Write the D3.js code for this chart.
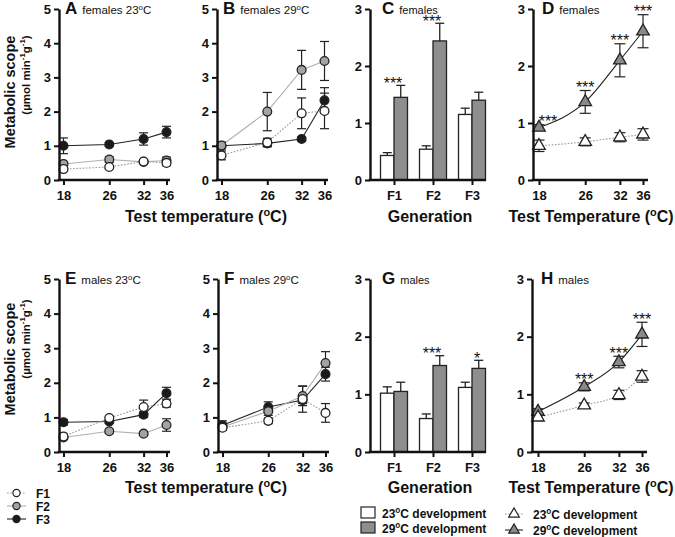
<!DOCTYPE html>
<html><head><meta charset="utf-8">
<script src="https://cdn.jsdelivr.net/npm/d3@7/dist/d3.min.js"></script>
<style>
body{margin:0;background:#fff;}
svg{font-family:"Liberation Sans", Arial, Helvetica, sans-serif;}
</style></head><body>
<svg id="c" width="675" height="537"></svg>
<script>
// ---------------- DATA ----------------
const temps = [18, 26, 32, 36];
const generations = ["F1", "F2", "F3"];
const yTicks5 = [0, 1, 2, 3, 4, 5];
const yTicks3 = [0, 1, 2, 3];

// A: females 23oC (mean, sem)
const femA_F1 = [0.32, 0.38, 0.54, 0.50], femA_F1_err = [0.05, 0.05, 0.05, 0.08];
const femA_F2 = [0.47, 0.60, 0.53, 0.57], femA_F2_err = [0.05, 0.08, 0.05, 0.10];
const femA_F3 = [1.00, 1.04, 1.20, 1.40], femA_F3_err = [0.23, 0.05, 0.18, 0.17];
// B: females 29oC
const femB_F1 = [0.72, 1.10, 1.95, 2.02], femB_F1_err = [0.13, 0.12, 0.45, 0.52];
const femB_F2 = [1.01, 2.00, 3.22, 3.48], femB_F2_err = [0.10, 0.56, 0.57, 0.57];
const femB_F3 = [1.00, 1.07, 1.20, 2.33], femB_F3_err = [0.05, 0.10, 0.06, 0.37];
// E: males 23oC
const malE_F1 = [0.45, 0.98, 1.30, 1.40], malE_F1_err = [0.07, 0.06, 0.20, 0.10];
const malE_F2 = [0.42, 0.60, 0.53, 0.78], malE_F2_err = [0.05, 0.06, 0.05, 0.18];
const malE_F3 = [0.86, 0.88, 1.08, 1.70], malE_F3_err = [0.08, 0.05, 0.08, 0.17];
// F: males 29oC
const malF_F1 = [0.70, 0.90, 1.53, 1.13], malF_F1_err = [0.06, 0.08, 0.38, 0.27];
const malF_F2 = [0.72, 1.18, 1.62, 2.57], malF_F2_err = [0.08, 0.12, 0.28, 0.33];
const malF_F3 = [0.77, 1.30, 1.50, 2.25], malF_F3_err = [0.13, 0.15, 0.10, 0.20];

// C: females by generation (bars)
const femC_dev23 = [0.43, 0.54, 1.15], femC_dev23_err = [0.05, 0.06, 0.11];
const femC_dev29 = [1.45, 2.44, 1.40], femC_dev29_err = [0.21, 0.31, 0.14];
const femC_stars = ["***", "***", ""];
// G: males by generation (bars)
const malG_dev23 = [1.02, 0.58, 1.12], malG_dev23_err = [0.11, 0.08, 0.09];
const malG_dev29 = [1.05, 1.50, 1.45], malG_dev29_err = [0.16, 0.17, 0.14];
const malG_stars = ["", "***", "*"];

// D: females by temperature (triangles)
const femD_dev23 = [0.60, 0.67, 0.75, 0.80], femD_dev23_err = [0.10, 0.07, 0.08, 0.10];
const femD_dev29 = [0.92, 1.37, 2.10, 2.61], femD_dev29_err = [0.05, 0.20, 0.29, 0.29];
const femD_stars = ["***", "***", "***", "***"];
// H: males by temperature (triangles)
const malH_dev23 = [0.60, 0.81, 0.99, 1.31], malH_dev23_err = [0.04, 0.04, 0.08, 0.10];
const malH_dev29 = [0.70, 1.13, 1.56, 2.04], malH_dev29_err = [0.05, 0.07, 0.10, 0.21];
const malH_stars = ["", "***", "***", "***"];

// ---------------- DRAWING ----------------
const svg = d3.select("#c");
const FONT = '"Liberation Sans", Arial, Helvetica, sans-serif';
const rows = [{y0: 180, y1: 9}, {y0: 452, y1: 279}];

function rich(sel, parts, fs) {
  let shifted = false;
  parts.forEach(p => {
    const sup = typeof p !== "string";
    const t = sup ? p.s : p;
    const ts = sel.append("tspan").text(t);
    if (sup && !shifted) { ts.attr("font-size", fs * 0.68).attr("dy", -fs * 0.38); shifted = true; }
    else if (sup) { ts.attr("font-size", fs * 0.68); }
    else if (shifted) { ts.attr("dy", fs * 0.38); shifted = false; }
  });
}

function styleAxis(g) {
  g.attr("font-family", FONT).attr("font-size", 13).attr("font-weight", "bold");
  g.selectAll("line").attr("stroke", "#111").attr("stroke-width", 2);
  g.selectAll("text").attr("fill", "#111");
}

function yAxis(g, ax, y, ticks) {
  const a = g.append("g").attr("transform", `translate(${ax},0)`)
    .call(d3.axisLeft(y).tickValues(ticks).tickSize(5).tickSizeOuter(0).tickPadding(3).tickFormat(d3.format("d")));
  a.select(".domain").attr("stroke", "#111").attr("stroke-width", 2.4);
  styleAxis(a);
}

function xAxis(g, ax, axEnd, y0, x, ticks) {
  g.append("line").attr("x1", ax - 1.2).attr("x2", axEnd).attr("y1", y0).attr("y2", y0)
    .attr("stroke", "#111").attr("stroke-width", 2.4);
  const a = g.append("g").attr("transform", `translate(0,${y0})`)
    .call(d3.axisBottom(x).tickValues(ticks).tickSize(5).tickSizeOuter(0).tickPadding(6));
  a.select(".domain").remove();
  styleAxis(a);
}

function panelTitle(g, x, y, letter, parts, subSize) {
  const t = g.append("text").attr("x", x).attr("y", y).attr("font-family", FONT).attr("fill", "#111");
  t.append("tspan").attr("font-size", 17).attr("font-weight", "bold").text(letter);
  const fs = subSize || 11.5;
  const s = t.append("tspan").attr("font-size", fs).attr("dx", 5);
  rich(s, parts, fs);
}

function errBar(g, x, yTop, yBot, cap) {
  g.append("line").attr("x1", x).attr("x2", x).attr("y1", yTop).attr("y2", yBot).attr("stroke", "#222").attr("stroke-width", 1.2);
  g.append("line").attr("x1", x - cap).attr("x2", x + cap).attr("y1", yTop).attr("y2", yTop).attr("stroke", "#222").attr("stroke-width", 1.2);
  g.append("line").attr("x1", x - cap).attr("x2", x + cap).attr("y1", yBot).attr("y2", yBot).attr("stroke", "#222").attr("stroke-width", 1.2);
}

const circleStyles = {
  F1: {fill: "#fff", line: "#9a9a9a", dash: "1.6,1.6"},
  F2: {fill: "#a3a3a3", line: "#b0b0b0", dash: null},
  F3: {fill: "#1a1a1a", line: "#222", dash: null}
};

function linePanel(cfg) {
  const r = rows[cfg.row];
  const g = svg.append("g");
  const y = d3.scaleLinear().domain([0, 5]).range([r.y0, r.y1]);
  const x = d3.scaleLinear().domain([18, 36]).range([cfg.ax + 4.5, cfg.ax + 107.5]);
  const series = [
    {k: "F3", v: cfg.F3, e: cfg.F3e},
    {k: "F2", v: cfg.F2, e: cfg.F2e},
    {k: "F1", v: cfg.F1, e: cfg.F1e}
  ];
  const line = d3.line().x((d, i) => x(temps[i])).y(d => y(d));
  series.forEach(s => {
    const st = circleStyles[s.k];
    g.append("path").attr("d", line(s.v)).attr("fill", "none").attr("stroke", st.line)
      .attr("stroke-width", 1.1).attr("stroke-dasharray", st.dash);
  });
  series.forEach(s => s.v.forEach((v, i) => errBar(g, x(temps[i]), y(v + s.e[i]), y(v - s.e[i]), 4.5)));
  series.forEach(s => {
    const st = circleStyles[s.k];
    g.selectAll(null).data(s.v).join("circle")
      .attr("cx", (d, i) => x(temps[i])).attr("cy", d => y(d)).attr("r", 4.4)
      .attr("fill", st.fill).attr("stroke", "#222").attr("stroke-width", 1.3);
  });
  yAxis(g, cfg.ax, y, yTicks5);
  xAxis(g, cfg.ax, cfg.ax + 111, r.y0, x, temps);
  panelTitle(g, cfg.ax + 6, r.y1 + 5, cfg.letter, cfg.title);
}

function barPanel(cfg) {
  const r = rows[cfg.row];
  const g = svg.append("g");
  const y = d3.scaleLinear().domain([0, 3]).range([r.y0, r.y1]);
  const x = d3.scalePoint().domain(generations).range([cfg.ax + 24, cfg.ax + 102]);
  const bw = 13.5;
  const groups = [
    {v: cfg.d23, e: cfg.d23e, fill: "#fff", off: -bw},
    {v: cfg.d29, e: cfg.d29e, fill: "#8e8e8e", off: 0}
  ];
  groups.forEach(grp => {
    grp.v.forEach((v, i) => {
      const cx = x(generations[i]) + grp.off + bw / 2;
      g.append("line").attr("x1", cx).attr("x2", cx).attr("y1", y(v)).attr("y2", y(v + grp.e[i])).attr("stroke", "#222").attr("stroke-width", 1.3);
      g.append("line").attr("x1", cx - 4.5).attr("x2", cx + 4.5).attr("y1", y(v + grp.e[i])).attr("y2", y(v + grp.e[i])).attr("stroke", "#222").attr("stroke-width", 1.3);
    });
    g.selectAll(null).data(grp.v).join("rect")
      .attr("x", (d, i) => x(generations[i]) + grp.off).attr("width", bw)
      .attr("y", d => y(d)).attr("height", d => y(0) - y(d))
      .attr("fill", grp.fill).attr("stroke", "#222").attr("stroke-width", 1.3);
  });
  cfg.stars.forEach((s, i) => {
    if (!s) return;
    const top = Math.max(cfg.d23[i] + cfg.d23e[i], cfg.d29[i] + cfg.d29e[i]);
    g.append("text").attr("x", x(generations[i]) + (s.length === 1 ? 5 : -1)).attr("y", y(top) + 3.5)
      .attr("text-anchor", "middle").attr("font-family", FONT).attr("font-size", 16).attr("fill", "#111").text(s);
  });
  yAxis(g, cfg.ax, y, yTicks3);
  xAxis(g, cfg.ax, cfg.ax + 116, r.y0, x, generations);
  panelTitle(g, cfg.ax + 12, r.y1 + 5, cfg.letter, cfg.title, 11);
}

function triPanel(cfg) {
  const r = rows[cfg.row];
  const g = svg.append("g");
  const y = d3.scaleLinear().domain([0, 3]).range([r.y0, r.y1]);
  const x = d3.scaleLinear().domain([18, 36]).range([cfg.ax + 6, cfg.ax + 110]);
  const line = d3.line().x((d, i) => x(temps[i])).y(d => y(d)).curve(d3.curveMonotoneX);
  const series = [
    {v: cfg.d29, e: cfg.d29e, fill: "#8a8a8a", line: "#222", dash: null},
    {v: cfg.d23, e: cfg.d23e, fill: "#fff", line: "#9a9a9a", dash: "1.6,1.6"}
  ];
  series.forEach(s => g.append("path").attr("d", line(s.v)).attr("fill", "none")
    .attr("stroke", s.line).attr("stroke-width", 1.1).attr("stroke-dasharray", s.dash));
  series.forEach(s => s.v.forEach((v, i) => errBar(g, x(temps[i]), y(v + s.e[i]), y(v - s.e[i]), 5.5)));
  const tri = d3.symbol().type(d3.symbolTriangle).size(68);
  series.forEach(s => {
    g.selectAll(null).data(s.v).join("path").attr("d", tri)
      .attr("transform", (d, i) => `translate(${x(temps[i])},${y(d)})`)
      .attr("fill", s.fill).attr("stroke", "#222").attr("stroke-width", 1.3);
  });
  cfg.stars.forEach((s, i) => {
    if (!s) return;
    const top = cfg.d29[i] + cfg.d29e[i];
    g.append("text").attr("x", x(temps[i]) + (i === 0 ? 9 : 0)).attr("y", y(top) + 2.5)
      .attr("text-anchor", "middle").attr("font-family", FONT).attr("font-size", 16).attr("fill", "#111").text(s);
  });
  yAxis(g, cfg.ax, y, yTicks3);
  xAxis(g, cfg.ax, cfg.ax + 115, r.y0, x, temps);
  panelTitle(g, cfg.ax + 9, r.y1 + 5, cfg.letter, cfg.title);
}

linePanel({row: 0, ax: 59, letter: "A", title: ["females 23", {s: "o"}, "C"],
  F1: femA_F1, F1e: femA_F1_err, F2: femA_F2, F2e: femA_F2_err, F3: femA_F3, F3e: femA_F3_err});
linePanel({row: 0, ax: 217, letter: "B", title: ["females 29", {s: "o"}, "C"],
  F1: femB_F1, F1e: femB_F1_err, F2: femB_F2, F2e: femB_F2_err, F3: femB_F3, F3e: femB_F3_err});
linePanel({row: 1, ax: 59, letter: "E", title: ["males 23", {s: "o"}, "C"],
  F1: malE_F1, F1e: malE_F1_err, F2: malE_F2, F2e: malE_F2_err, F3: malE_F3, F3e: malE_F3_err});
linePanel({row: 1, ax: 218, letter: "F", title: ["males 29", {s: "o"}, "C"],
  F1: malF_F1, F1e: malF_F1_err, F2: malF_F2, F2e: malF_F2_err, F3: malF_F3, F3e: malF_F3_err});
barPanel({row: 0, ax: 370, letter: "C", title: ["females"],
  d23: femC_dev23, d23e: femC_dev23_err, d29: femC_dev29, d29e: femC_dev29_err, stars: femC_stars});
barPanel({row: 1, ax: 370, letter: "G", title: ["males"],
  d23: malG_dev23, d23e: malG_dev23_err, d29: malG_dev29, d29e: malG_dev29_err, stars: malG_stars});
triPanel({row: 0, ax: 533, letter: "D", title: ["females"],
  d23: femD_dev23, d23e: femD_dev23_err, d29: femD_dev29, d29e: femD_dev29_err, stars: femD_stars});
triPanel({row: 1, ax: 532, letter: "H", title: ["males"],
  d23: malH_dev23, d23e: malH_dev23_err, d29: malH_dev29, d29e: malH_dev29_err, stars: malH_stars});

// axis titles
function axTitle(x, y, parts, fs, rot) {
  const t = svg.append("text").attr("font-family", FONT).attr("font-weight", "bold").attr("font-size", fs)
    .attr("fill", "#111").attr("text-anchor", "middle")
    .attr("transform", `translate(${x},${y})` + (rot ? " rotate(-90)" : ""));
  rich(t, parts, fs);
}
[{y1: 92, y2: 75}, {y1: 359, y2: 339}].forEach(p => {
  axTitle(15, p.y1, ["Metabolic scope"], 14.5, true);
  axTitle(29.5, p.y2, ["(µmol min", {s: "-1"}, "g", {s: "-1"}, ")"], 11.5, true);
});
[222, 493].forEach(yy => {
  axTitle(206, yy, ["Test temperature (", {s: "o"}, "C)"], 16, false);
  axTitle(430, yy, ["Generation"], 16, false);
  axTitle(591, yy, ["Test Temperature (", {s: "o"}, "C)"], 16, false);
});

// legends
const legF = svg.append("g");
[["F1", 493], ["F2", 506], ["F3", 519]].forEach(([k, yy]) => {
  const st = circleStyles[k];
  legF.append("line").attr("x1", 7).attr("x2", 26).attr("y1", yy).attr("y2", yy)
    .attr("stroke", st.line).attr("stroke-width", 1.1).attr("stroke-dasharray", st.dash);
  legF.append("circle").attr("cx", 16.5).attr("cy", yy).attr("r", 3.6).attr("fill", st.fill).attr("stroke", "#222").attr("stroke-width", 1.2);
  legF.append("text").attr("x", 36).attr("y", yy + 4.5).attr("font-family", FONT).attr("font-weight", "bold")
    .attr("font-size", 12).attr("fill", "#111").text(k);
});
const legB = svg.append("g");
[["23", "#fff", 513], ["29", "#8e8e8e", 528]].forEach(([t, f, yy]) => {
  legB.append("rect").attr("x", 361).attr("y", yy - 6).attr("width", 14).attr("height", 11)
    .attr("fill", f).attr("stroke", "#222").attr("stroke-width", 1.2);
  const tx = legB.append("text").attr("x", 382).attr("y", yy + 4.5).attr("font-family", FONT).attr("font-weight", "bold")
    .attr("font-size", 12).attr("fill", "#111");
  rich(tx, [t, {s: "o"}, "C development"], 12);
});
const legT = svg.append("g");
const triL = d3.symbol().type(d3.symbolTriangle).size(48);
[["23", "#fff", "#9a9a9a", "1.6,1.6", 514], ["29", "#8a8a8a", "#222", null, 530]].forEach(([t, f, lc, dash, yy]) => {
  legT.append("line").attr("x1", 505).attr("x2", 523).attr("y1", yy).attr("y2", yy)
    .attr("stroke", lc).attr("stroke-width", 1.1).attr("stroke-dasharray", dash);
  legT.append("path").attr("d", triL).attr("transform", `translate(514,${yy})`)
    .attr("fill", f).attr("stroke", "#222").attr("stroke-width", 1.2);
  const tx = legT.append("text").attr("x", 533).attr("y", yy + 4.5).attr("font-family", FONT).attr("font-weight", "bold")
    .attr("font-size", 12).attr("fill", "#111");
  rich(tx, [t, {s: "o"}, "C development"], 12);
});
</script>
</body></html>
